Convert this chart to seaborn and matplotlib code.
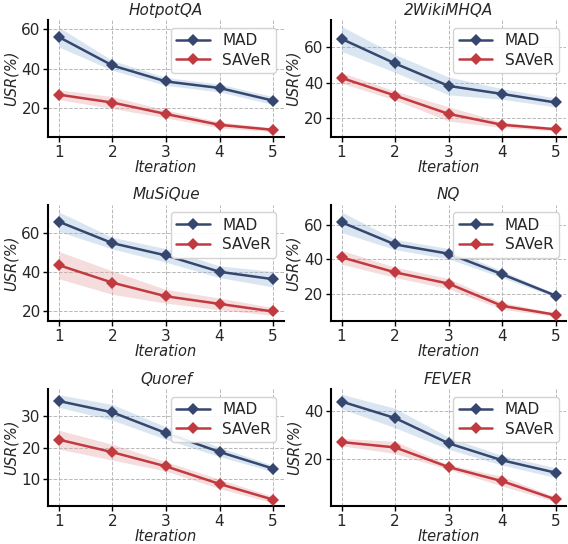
import numpy as np
import pandas as pd
import matplotlib
matplotlib.use("Agg")
import matplotlib.pyplot as plt
import seaborn as sns

# USR(%) per iteration
iterations = [1, 2, 3, 4, 5]
datasets = ["HotpotQA", "2WikiMHQA", "MuSiQue", "NQ", "Quoref", "FEVER"]

hotpot_mad = [56.1, 41.7, 33.6, 30.3, 23.9]
hotpot_mad_err = [5.0, 2.5, 2.0, 2.0, 2.0]
hotpot_saver = [26.9, 22.9, 17.1, 11.6, 9.1]
hotpot_saver_err = [2.5, 3.0, 2.0, 1.5, 1.0]

wiki_mad = [64.5, 50.7, 38.1, 33.6, 28.8]
wiki_mad_err = [7.0, 5.0, 5.0, 3.0, 2.5]
wiki_saver = [42.6, 32.7, 22.4, 16.3, 13.8]
wiki_saver_err = [3.0, 2.5, 4.0, 1.5, 1.0]

musique_mad = [65.9, 54.9, 48.6, 40.2, 36.4]
musique_mad_err = [5.0, 3.0, 3.5, 3.0, 4.0]
musique_saver = [43.6, 34.6, 27.6, 23.7, 19.8]
musique_saver_err = [7.0, 6.0, 3.5, 3.0, 2.0]

nq_mad = [61.7, 48.7, 43.3, 31.3, 18.8]
nq_mad_err = [6.0, 3.0, 3.0, 2.0, 1.0]
nq_saver = [41.2, 32.4, 25.8, 12.8, 7.6]
nq_saver_err = [4.0, 3.0, 3.0, 2.0, 1.0]

quoref_mad = [34.9, 31.3, 24.7, 18.7, 13.4]
quoref_mad_err = [2.0, 2.5, 2.0, 1.5, 1.0]
quoref_saver = [22.6, 18.6, 14.1, 8.5, 3.5]
quoref_saver_err = [3.0, 2.5, 1.5, 1.5, 1.0]

fever_mad = [43.8, 37.0, 26.6, 19.6, 14.5]
fever_mad_err = [3.0, 4.0, 2.5, 2.0, 2.0]
fever_saver = [27.1, 24.9, 16.8, 11.0, 3.5]
fever_saver_err = [1.5, 2.5, 1.0, 2.0, 1.0]

series = {
    "HotpotQA": (hotpot_mad, hotpot_mad_err, hotpot_saver, hotpot_saver_err),
    "2WikiMHQA": (wiki_mad, wiki_mad_err, wiki_saver, wiki_saver_err),
    "MuSiQue": (musique_mad, musique_mad_err, musique_saver, musique_saver_err),
    "NQ": (nq_mad, nq_mad_err, nq_saver, nq_saver_err),
    "Quoref": (quoref_mad, quoref_mad_err, quoref_saver, quoref_saver_err),
    "FEVER": (fever_mad, fever_mad_err, fever_saver, fever_saver_err),
}

# axis ranges / ticks per panel
ylims = {
    "HotpotQA": (5.5, 64.7), "2WikiMHQA": (9.5, 75.0), "MuSiQue": (14.7, 74.7),
    "NQ": (3.7, 72.0), "Quoref": (1.5, 38.7), "FEVER": (0.8, 48.9),
}
yticks = {
    "HotpotQA": [20, 40, 60], "2WikiMHQA": [20, 40, 60], "MuSiQue": [20, 40, 60],
    "NQ": [20, 40, 60], "Quoref": [10, 20, 30], "FEVER": [20, 40],
}

mad_color = "#36476f"
saver_color = "#c13a40"
mad_fill = "#8fb3d9"
saver_fill = "#e5a3a6"

sns.set_style("ticks")
plt.rcParams["font.family"] = "DejaVu Sans"
plt.rcParams["font.sans-serif"] = ["DejaVu Sans"]

fig, axes = plt.subplots(3, 2, figsize=(5.68, 5.44), dpi=100)
fig.subplots_adjust(left=0.085, right=0.997, top=0.963, bottom=0.07,
                    wspace=0.2, hspace=0.58)

for ax, name in zip(axes.flat, datasets):
    mad, mad_err, saver, saver_err = series[name]
    df = pd.DataFrame({
        "Iteration": iterations * 2,
        "USR": mad + saver,
        "Method": ["MAD"] * 5 + ["SAVeR"] * 5,
    })

    ax.fill_between(iterations, np.array(mad) - mad_err, np.array(mad) + mad_err,
                    color=mad_fill, alpha=0.33, lw=0, zorder=1)
    ax.fill_between(iterations, np.array(saver) - saver_err, np.array(saver) + saver_err,
                    color=saver_fill, alpha=0.38, lw=0, zorder=1)

    sns.lineplot(data=df, x="Iteration", y="USR", hue="Method",
                 palette={"MAD": mad_color, "SAVeR": saver_color},
                 marker="D", markersize=6, markeredgewidth=0, linewidth=1.8,
                 ax=ax, zorder=3)

    ax.set_ylim(*ylims[name])
    ax.set_yticks(yticks[name])
    ax.set_xticks(iterations)
    ax.set_title(name, fontsize=11, style="italic", pad=4)
    ax.set_xlabel("Iteration", fontsize=10.5, style="italic", labelpad=0)
    ax.set_ylabel("USR(%)", fontsize=10.5, style="italic", labelpad=2)
    ax.tick_params(labelsize=11, length=3.5, width=1, color="black", pad=2)
    ax.grid(True, linestyle="--", color="#b8b8b8", linewidth=0.7)
    ax.set_axisbelow(True)

    for side in ["top", "right"]:
        ax.spines[side].set_visible(False)
    for side in ["left", "bottom"]:
        ax.spines[side].set_color("black")
        ax.spines[side].set_linewidth(1.5)

    ax.legend(loc="upper right", fontsize=11, frameon=True, title=None,
              handlelength=2.2, borderpad=0.35, labelspacing=0.3,
              edgecolor="#d0d0d0", framealpha=0.9)

plt.savefig("out.png", dpi=100)
